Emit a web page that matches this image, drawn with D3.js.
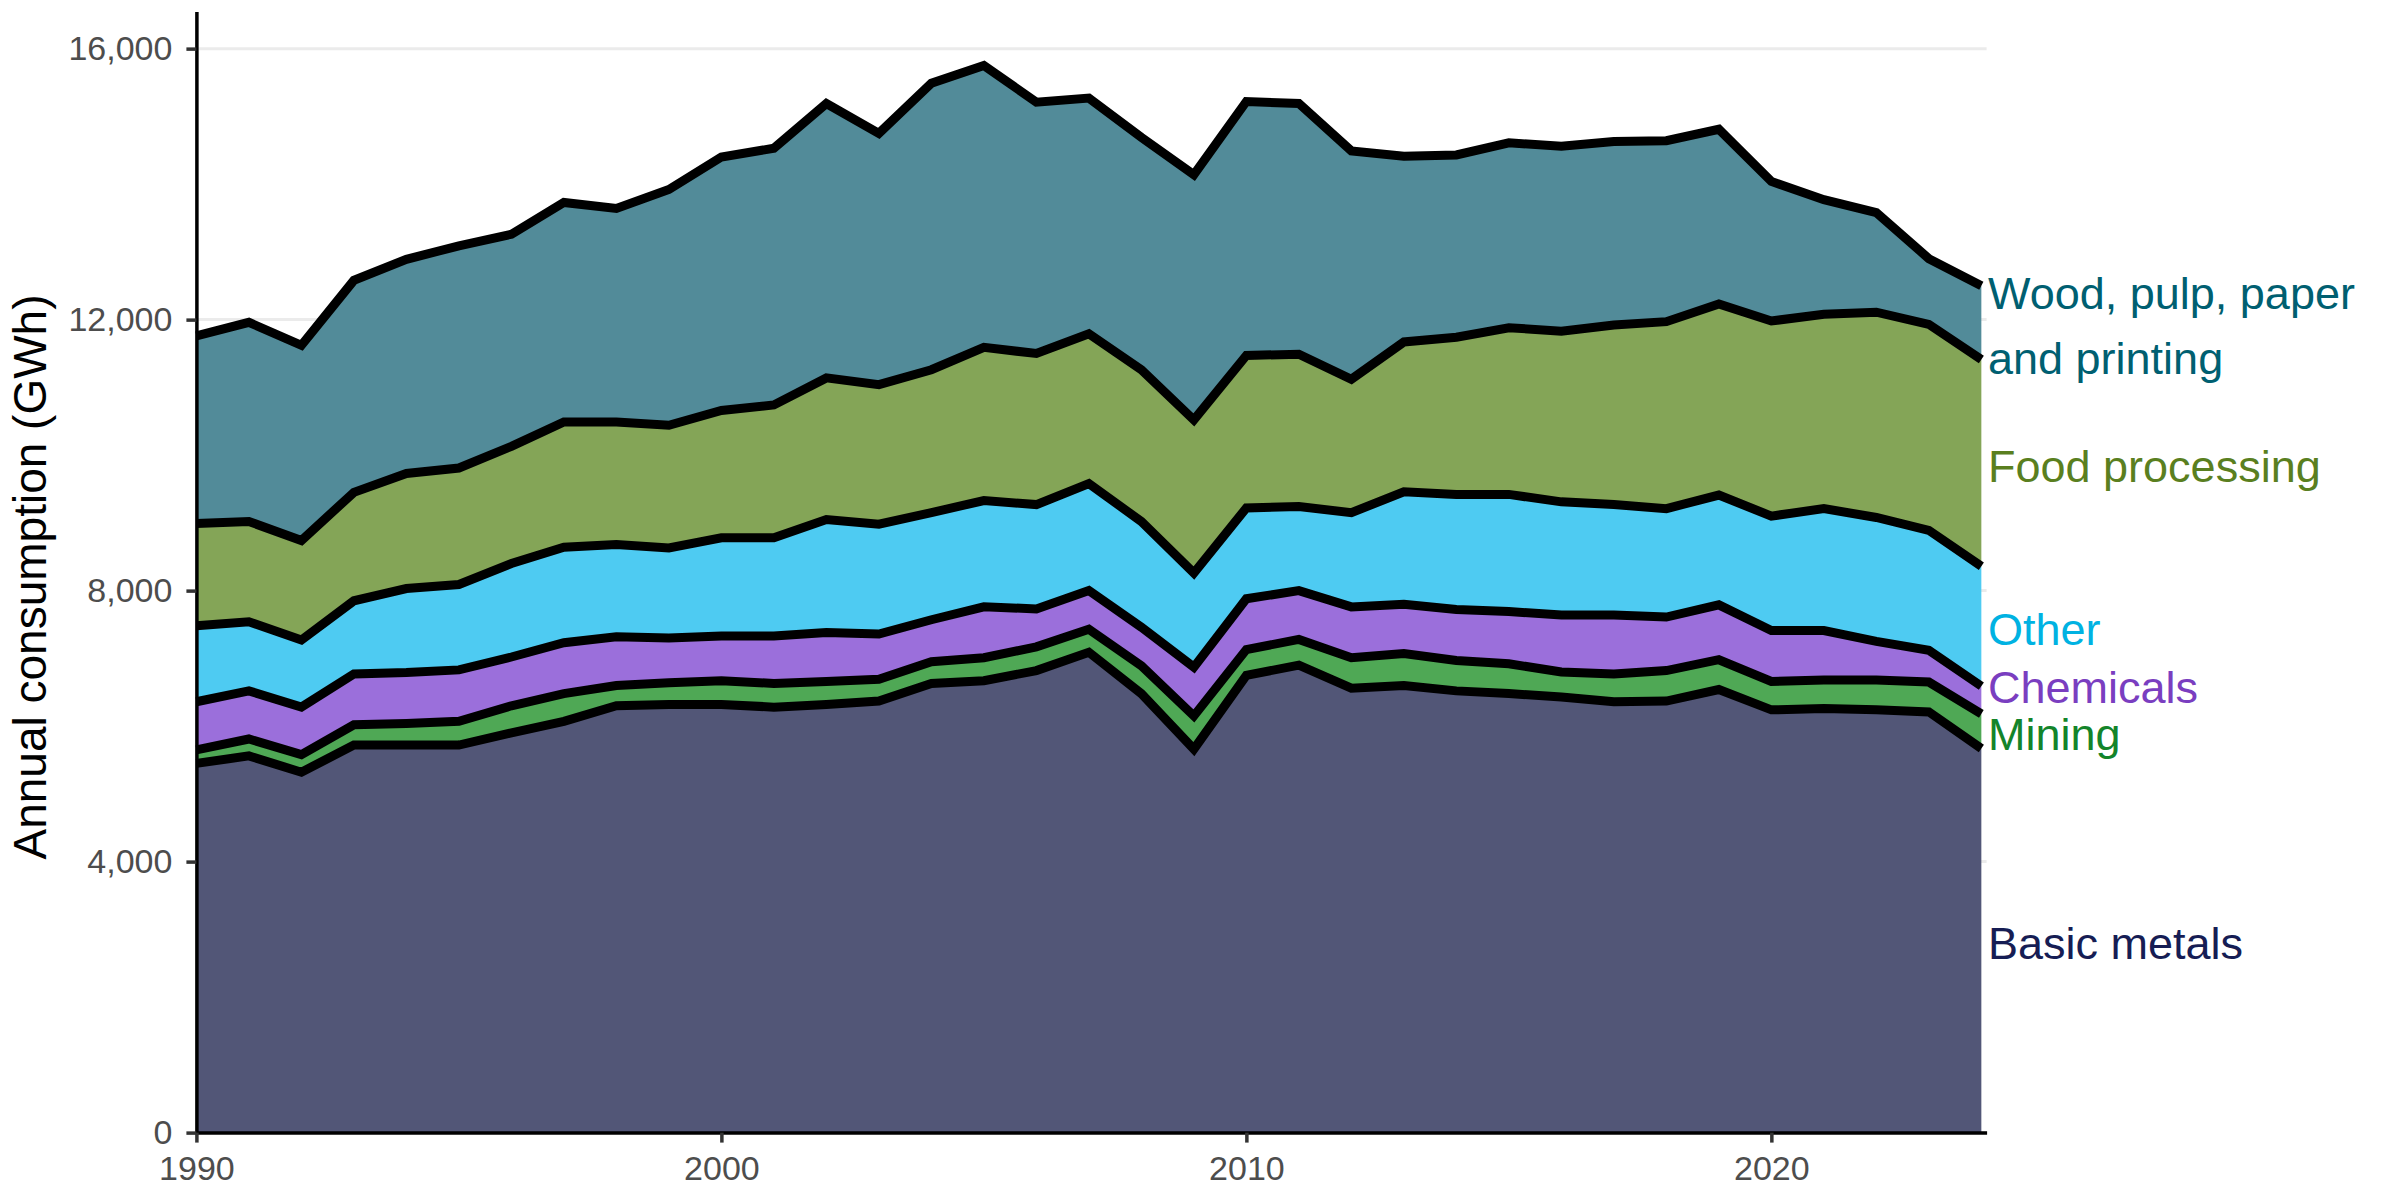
<!DOCTYPE html>
<html>
<head>
<meta charset="utf-8">
<script src="https://cdn.jsdelivr.net/npm/d3@7"></script>
<style>
  body { margin: 0; background: #fff; }
  text { font-family: "Liberation Sans", Arial, sans-serif; }
</style>
</head>
<body>
<script>
var years = [1990,1991,1992,1993,1994,1995,1996,1997,1998,1999,
             2000,2001,2002,2003,2004,2005,2006,2007,2008,2009,
             2010,2011,2012,2013,2014,2015,2016,2017,2018,2019,
             2020,2021,2022,2023,2024]

// annual consumption by sector, GWh
var basicMetals = [5450,5560,5320,5720,5720,5720,5900,6070,6300,6320,
                   6320,6280,6320,6370,6630,6670,6820,7090,6480,5660,
                   6750,6900,6560,6600,6520,6480,6430,6360,6370,6540,
                   6240,6260,6240,6210,5670]
var mining = [200,250,260,300,320,350,400,410,300,320,
              350,350,340,320,320,340,350,340,410,490,
              380,380,450,470,450,440,370,410,450,440,
              420,420,440,440,510]
var chemicals = [710,710,700,750,750,760,720,750,720,660,
                 660,700,720,670,620,750,560,570,570,720,
                 750,720,750,730,750,770,840,870,790,810,
                 750,730,570,470,410]
var other = [1120,1020,990,1080,1240,1260,1380,1410,1360,1330,
             1450,1450,1670,1620,1580,1570,1540,1580,1560,1390,
             1340,1240,1390,1660,1700,1730,1670,1630,1600,1620,
             1690,1800,1830,1770,1770]
var food = [1510,1480,1470,1600,1700,1720,1730,1850,1810,1810,
            1880,1960,2090,2060,2110,2260,2230,2210,2240,2260,
            2250,2250,1970,2210,2320,2460,2520,2650,2760,2820,
            2880,2870,3030,3040,3050]
var wood = [2770,2940,2880,3130,3160,3280,3130,3240,3150,3480,
            3740,3790,4050,3710,4230,4160,3710,3480,3430,3620,
            3750,3700,3370,2740,2690,2730,2730,2710,2670,2580,
            2060,1690,1470,970,1090]

var sectors = ['Basic metals','Mining','Chemicals','Other','Food processing','Wood, pulp, paper and printing']
var labelLines = [['Basic metals'],['Mining'],['Chemicals'],['Other'],['Food processing'],['Wood, pulp, paper','and printing']]
var yTicks = [0,4000,8000,12000,16000]
var xTicks = [1990,2000,2010,2020]

var fills = ['#525677','#4fa855','#9b6fdb','#4ecbf2','#84a557','#528b99']
var textCols = ['#161d54','#13842a','#7a3ec0','#00b2e2','#5a7f1f','#005f71']

var w = 2400, h = 1200
var pLeft = 196.4, pRight = 1986.6, pTop = 11.5, pBottom = 1132.6

var series = [basicMetals, mining, chemicals, other, food, wood]
var table = years.map(function(yr, i){
  var row = {year: yr}
  sectors.forEach(function(s, j){ row[s] = series[j][i] })
  return row
})

var stack = d3.stack().keys(sectors)(table)

var x = d3.scaleLinear().domain([1990, 2024.1]).range([pLeft, pRight])
var y = d3.scaleLinear().domain([0, 16548]).range([pBottom, pTop])

var svg = d3.select('body').append('svg')
  .attr('width', w).attr('height', h)

// grid
svg.append('g').selectAll('line')
  .data(yTicks)
  .enter().append('line')
  .attr('x1', pLeft).attr('x2', pRight)
  .attr('y1', function(d){ return y(d) }).attr('y2', function(d){ return y(d) })
  .attr('stroke', '#ebebeb').attr('stroke-width', 3)

var area = d3.area()
  .x(function(d){ return x(d.data.year) })
  .y0(function(d){ return y(d[0]) })
  .y1(function(d){ return y(d[1]) })

svg.append('g').selectAll('path')
  .data(stack)
  .enter().append('path')
  .attr('d', area)
  .attr('fill', function(d, i){ return fills[i] })

var topLine = d3.line()
  .x(function(d){ return x(d.data.year) })
  .y(function(d){ return y(d[1]) })

svg.append('g').selectAll('path')
  .data(stack)
  .enter().append('path')
  .attr('d', topLine)
  .attr('fill', 'none')
  .attr('stroke', 'black')
  .attr('stroke-width', 9)
  .attr('stroke-linejoin', 'miter')
  .attr('stroke-linecap', 'butt')

// axes
var yAxis = svg.append('g')
  .attr('transform', 'translate(' + pLeft + ',0)')
  .call(d3.axisLeft(y).tickValues(yTicks).tickFormat(d3.format(',')).tickSize(10).tickSizeOuter(0).tickPadding(14))
var xAxis = svg.append('g')
  .attr('transform', 'translate(0,' + pBottom + ')')
  .call(d3.axisBottom(x).tickValues(xTicks).tickFormat(d3.format('d')).tickSize(10).tickSizeOuter(0).tickPadding(13))

;[yAxis, xAxis].forEach(function(g){
  g.select('.domain').attr('stroke', 'black').attr('stroke-width', 3.5)
  g.selectAll('.tick line').attr('stroke', '#333').attr('stroke-width', 3.5)
  g.selectAll('.tick text').attr('fill', '#4d4d4d').style('font-size', '34px')
    .style('font-family', '"Liberation Sans", Arial, sans-serif')
})

svg.append('text')
  .attr('transform', 'translate(46,577) rotate(-90)')
  .attr('text-anchor', 'middle')
  .style('font-size', '46px')
  .attr('fill', 'black')
  .text('Annual consumption (GWh)')

// direct labels at the last year, centred on each band; overlapping ones pushed upward
var fs = 45, lh = 65, gap = 47
var last = years.length - 1
var labels = stack.map(function(s, i){
  var n = labelLines[i].length
  return {i: i, c: y((s[last][0] + s[last][1]) / 2), hh: gap + (n - 1) * lh}
})
labels.sort(function(a, b){ return b.c - a.c })
for (var k = 1; k < labels.length; k++){
  var lower = labels[k-1], upper = labels[k]
  var need = (lower.hh + upper.hh) / 2
  if (lower.c - upper.c < need) upper.c = lower.c - need
}

labels.forEach(function(L){
  var lines = labelLines[L.i]
  var t = svg.append('text')
    .attr('x', 1988)
    .attr('fill', textCols[L.i])
    .style('font-size', fs + 'px')
  lines.forEach(function(str, j){
    t.append('tspan')
      .attr('x', 1988)
      .attr('y', L.c - (lines.length - 1) * lh / 2 + j * lh + fs * 0.42)
      .text(str)
  })
})
</script>
</body>
</html>
